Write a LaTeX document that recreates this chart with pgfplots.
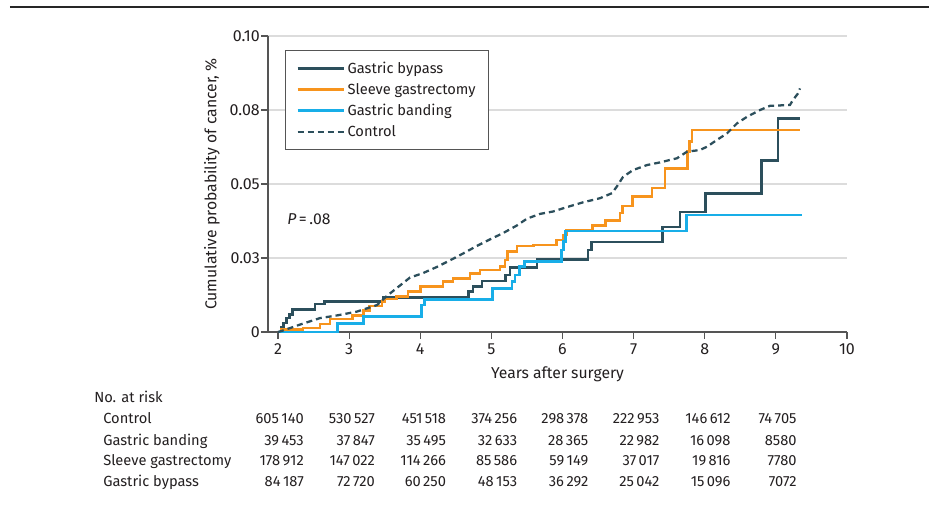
\documentclass[border=0pt]{standalone}
\usepackage{pgfplots}
\pgfplotsset{compat=1.18}
\usepackage{fontspec}
\setmainfont{Fira Sans}
\definecolor{cbyp}{HTML}{2C4F5C}
\definecolor{csleeve}{HTML}{F7941D}
\definecolor{cband}{HTML}{18AEE8}
\definecolor{cgrid}{HTML}{DCDCDC}
\definecolor{caxis}{HTML}{555555}
\definecolor{ctext}{HTML}{231F20}

\pgfplotstableread{
x y
2.00 0
2.04 0.0015
2.08 0.003
2.12 0.0047
2.16 0.006
2.20 0.0076
2.52 0.0095
2.65 0.0102
3.48 0.0116
4.68 0.0137
4.74 0.0153
4.87 0.0172
5.20 0.0193
5.26 0.0217
5.64 0.0245
6.36 0.0277
6.41 0.0304
7.41 0.0355
7.65 0.0405
8.01 0.0469
8.80 0.0579
9.03 0.0722
9.34 0.0722
}\bypass

\pgfplotstableread{
x y
2.00 0
2.04 0.0009
2.35 0.0013
2.59 0.0027
2.73 0.0044
3.05 0.0056
3.20 0.0072
3.29 0.0088
3.46 0.0104
3.50 0.0112
3.67 0.0121
3.83 0.0137
4.00 0.0153
4.32 0.0170
4.46 0.0181
4.70 0.0198
4.84 0.0209
5.12 0.0221
5.19 0.0243
5.23 0.0271
5.36 0.0291
5.59 0.0294
5.92 0.0311
6.01 0.0328
6.06 0.0343
6.42 0.0359
6.60 0.0377
6.81 0.0402
6.84 0.0426
6.98 0.0457
7.26 0.0486
7.44 0.0553
7.76 0.0609
7.79 0.0643
7.82 0.0682
9.34 0.0682
}\sleeve

\pgfplotstableread{
x y
2.00 0
2.84 0.0029
3.20 0.0053
4.02 0.0091
4.06 0.0110
5.02 0.0147
5.29 0.0170
5.33 0.0193
5.40 0.0221
5.47 0.0238
5.99 0.0277
6.01 0.0305
6.04 0.0341
7.74 0.0395
9.37 0.0395
}\banding

\pgfplotstableread{
x y
2.000 0
2.070 0.0005
2.309 0.0025
2.591 0.0047
2.830 0.0056
3.111 0.0069
3.392 0.0091
3.532 0.0122
3.673 0.0149
3.856 0.0184
4.039 0.0199
4.236 0.0220
4.418 0.0242
4.601 0.0265
4.798 0.0291
4.981 0.0313
5.163 0.0334
5.360 0.0360
5.501 0.0383
5.684 0.0399
5.866 0.0407
6.063 0.0422
6.288 0.0438
6.527 0.0452
6.696 0.0469
6.766 0.0492
6.851 0.0524
6.991 0.0547
7.188 0.0564
7.371 0.0573
7.610 0.0587
7.750 0.0609
7.933 0.0615
8.032 0.0626
8.172 0.0649
8.313 0.0671
8.454 0.0705
8.594 0.0727
8.777 0.0750
8.917 0.0764
9.198 0.0767
9.241 0.0784
9.311 0.0806
9.339 0.0823
}\control

\begin{document}
\fontsize{11}{13}\selectfont
\color{ctext}
\begin{tikzpicture}
\useasboundingbox (-201pt,-132pt) rectangle (495.75pt,249pt);
\draw[line width=1.5pt, black!85] (-193.5pt,244pt) -- (495.75pt,244pt);
\begin{axis}[
  at={(0pt,0pt)}, anchor=south west,
  width=434.25pt, height=222pt, scale only axis,
  xmin=1.8594, xmax=10, ymin=0, ymax=0.1,
  axis lines*=left,
  axis line style={caxis, line width=0.9pt},
  xtick={2,3,4,5,6,7,8,9,10},
  xticklabels={2,3,4,5,6,7,8,9,10},
  ytick={0,0.025,0.05,0.075,0.1},
  yticklabels={0,0.03,0.05,0.08,0.10},
  tick align=outside, major tick length=5pt,
  tick style={caxis, line width=0.9pt},
  ticklabel style={font=\fontsize{12}{14}\selectfont},
  yticklabel style={inner xsep=1pt},
  ymajorgrids, grid style={cgrid, line width=1pt},
  xlabel={Years after surgery},
  xlabel style={at={(axis description cs:0.5,0)}, anchor=center, yshift=-32pt,
    font=\fontsize{11.8}{14}\selectfont},
  ylabel={Cumulative probability of cancer, \%},
  ylabel style={at={(axis description cs:-0.0967,0.5)}, anchor=center,
    font=\fontsize{11.8}{14}\selectfont},
  clip=false,
  legend style={at={(axis description cs:0.0294,0.953)}, anchor=north west,
    draw=caxis, line width=0.8pt, fill=white, inner xsep=8pt, inner ysep=6.5pt,
    row sep=1.75pt},
  legend cell align=left,
  legend image code/.code={\draw[#1] (0pt,0pt) -- (34.5pt,0pt);},
]
\addplot[const plot, cbyp, line width=2pt] table {\bypass};
\addlegendentry{Gastric bypass}
\addplot[const plot, csleeve, line width=2pt] table {\sleeve};
\addlegendentry{Sleeve gastrectomy}
\addplot[const plot, cband, line width=2pt] table {\banding};
\addlegendentry{Gastric banding}
\addplot[cbyp, line width=1.7pt, dash pattern=on 4.5pt off 3pt] table {\control};
\addlegendentry{Control}

\node[anchor=mid west, inner sep=0pt, font=\fontsize{11.8}{14}\selectfont] at (axis cs:2.127,0.0375) {\textit{P}\,=\,.08};

\begin{scope}[every node/.style={inner sep=0pt}]
\node[anchor=mid west] at (axis cs:-0.587,-0.0226) {No. at risk};
\node[anchor=mid west] at (axis cs:-0.4605,-0.0297) {Control};
\node[anchor=mid west] at (axis cs:-0.4605,-0.0369) {Gastric banding};
\node[anchor=mid west] at (axis cs:-0.4605,-0.0439) {Sleeve gastrectomy};
\node[anchor=mid west] at (axis cs:-0.4605,-0.0509) {Gastric bypass};

\node[anchor=mid east] at (axis cs:2.366,-0.0297) {605\,140};
\node[anchor=mid east] at (axis cs:2.366,-0.0369) {39\,453};
\node[anchor=mid east] at (axis cs:2.366,-0.0439) {178\,912};
\node[anchor=mid east] at (axis cs:2.366,-0.0509) {84\,187};
\node[anchor=mid east] at (axis cs:3.366,-0.0297) {530\,527};
\node[anchor=mid east] at (axis cs:3.366,-0.0369) {37\,847};
\node[anchor=mid east] at (axis cs:3.366,-0.0439) {147\,022};
\node[anchor=mid east] at (axis cs:3.366,-0.0509) {72\,720};
\node[anchor=mid east] at (axis cs:4.366,-0.0297) {451\,518};
\node[anchor=mid east] at (axis cs:4.366,-0.0369) {35\,495};
\node[anchor=mid east] at (axis cs:4.366,-0.0439) {114\,266};
\node[anchor=mid east] at (axis cs:4.366,-0.0509) {60\,250};
\node[anchor=mid east] at (axis cs:5.366,-0.0297) {374\,256};
\node[anchor=mid east] at (axis cs:5.366,-0.0369) {32\,633};
\node[anchor=mid east] at (axis cs:5.366,-0.0439) {85\,586};
\node[anchor=mid east] at (axis cs:5.366,-0.0509) {48\,153};
\node[anchor=mid east] at (axis cs:6.366,-0.0297) {298\,378};
\node[anchor=mid east] at (axis cs:6.366,-0.0369) {28\,365};
\node[anchor=mid east] at (axis cs:6.366,-0.0439) {59\,149};
\node[anchor=mid east] at (axis cs:6.366,-0.0509) {36\,292};
\node[anchor=mid east] at (axis cs:7.366,-0.0297) {222\,953};
\node[anchor=mid east] at (axis cs:7.366,-0.0369) {22\,982};
\node[anchor=mid east] at (axis cs:7.366,-0.0439) {37\,017};
\node[anchor=mid east] at (axis cs:7.366,-0.0509) {25\,042};
\node[anchor=mid east] at (axis cs:8.366,-0.0297) {146\,612};
\node[anchor=mid east] at (axis cs:8.366,-0.0369) {16\,098};
\node[anchor=mid east] at (axis cs:8.366,-0.0439) {19\,816};
\node[anchor=mid east] at (axis cs:8.366,-0.0509) {15\,096};
\node[anchor=mid east] at (axis cs:9.295,-0.0297) {74\,705};
\node[anchor=mid east] at (axis cs:9.295,-0.0369) {8580};
\node[anchor=mid east] at (axis cs:9.295,-0.0439) {7780};
\node[anchor=mid east] at (axis cs:9.295,-0.0509) {7072};
\end{scope}
\end{axis}
\end{tikzpicture}
\end{document}
